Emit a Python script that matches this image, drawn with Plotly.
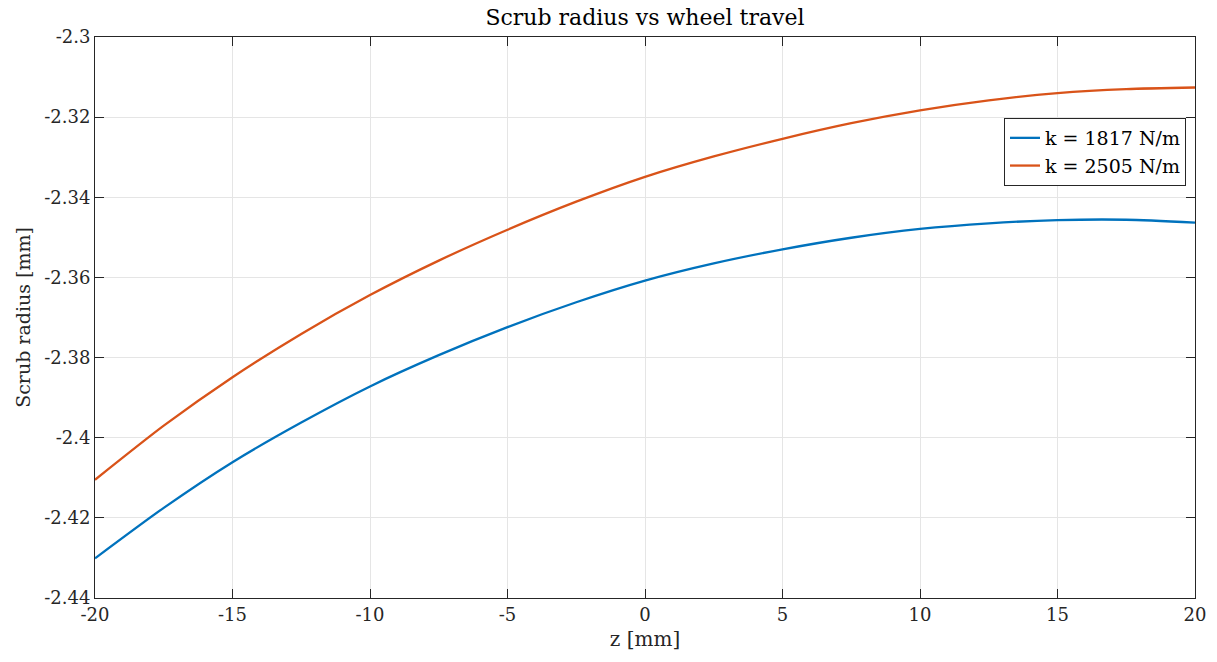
import plotly.graph_objects as go

z_mm = [-20, -17.5, -15, -12.5, -10, -7.5, -5, -2.5, 0, 2.5, 5, 7.5, 10, 12.5, 15, 17.5, 20]
scrub_k1817 = [-2.4301, -2.4175, -2.4061, -2.3962, -2.3872, -2.3794, -2.3724, -2.3662, -2.3608,
               -2.3565, -2.3530, -2.3501, -2.3479, -2.3465, -2.3457, -2.3456, -2.3463]
scrub_k2505 = [-2.4105, -2.3970, -2.3849, -2.3741, -2.3644, -2.3558, -2.3481, -2.3411, -2.3349,
               -2.3298, -2.3254, -2.3215, -2.3183, -2.3158, -2.3140, -2.3130, -2.3126]
series_names = ["k = 1817 N/m", "k = 2505 N/m"]
x_ticks = [-20, -15, -10, -5, 0, 5, 10, 15, 20]
y_ticks = [-2.44, -2.42, -2.40, -2.38, -2.36, -2.34, -2.32, -2.30]
y_tick_labels = ["-2.44", "-2.42", "-2.4", "-2.38", "-2.36", "-2.34", "-2.32", "-2.3"]

FONT = "DejaVu Serif"
AX = "#262626"

fig = go.Figure()
fig.add_trace(go.Scatter(x=z_mm, y=scrub_k1817, mode="lines", name=series_names[0],
                         line=dict(color="#0072BD", width=2.3, shape="spline", smoothing=0.7)))
fig.add_trace(go.Scatter(x=z_mm, y=scrub_k2505, mode="lines", name=series_names[1],
                         line=dict(color="#D95319", width=2.3, shape="spline", smoothing=0.7)))

axis_common = dict(showline=True, linecolor=AX, linewidth=1, mirror="ticks",
                   ticks="inside", ticklen=9, tickcolor=AX, tickwidth=1,
                   showgrid=True, gridcolor="#e5e5e5", gridwidth=1, zeroline=False,
                   tickfont=dict(family=FONT, size=18, color=AX))

fig.update_xaxes(range=[-20, 20], tickvals=x_ticks, ticktext=[str(v) for v in x_ticks],
                 title=dict(text="z [mm]", font=dict(family=FONT, size=20, color=AX), standoff=8),
                 **axis_common)
fig.update_yaxes(range=[-2.44, -2.30], tickvals=y_ticks, ticktext=y_tick_labels,
                 title=dict(text="Scrub radius [mm]", font=dict(family=FONT, size=19, color=AX), standoff=8),
                 **axis_common)

fig.update_layout(
    width=1217, height=662,
    margin=dict(l=95, r=22, t=37, b=64),
    paper_bgcolor="white", plot_bgcolor="white",
    title=dict(text="Scrub radius vs wheel travel", x=0.5, xref="paper", xanchor="center",
               y=1 - 17 / 662, yanchor="middle", font=dict(family=FONT, size=22, color="black")),
    font=dict(family=FONT, color=AX),
    legend=dict(x=0.9918, y=0.8556, xanchor="right", yanchor="top",
                bgcolor="white", bordercolor=AX, borderwidth=1,
                font=dict(family=FONT, size=19, color="black"),
                itemwidth=30, tracegroupgap=0),
    showlegend=True,
)

fig.write_html("out.html")
